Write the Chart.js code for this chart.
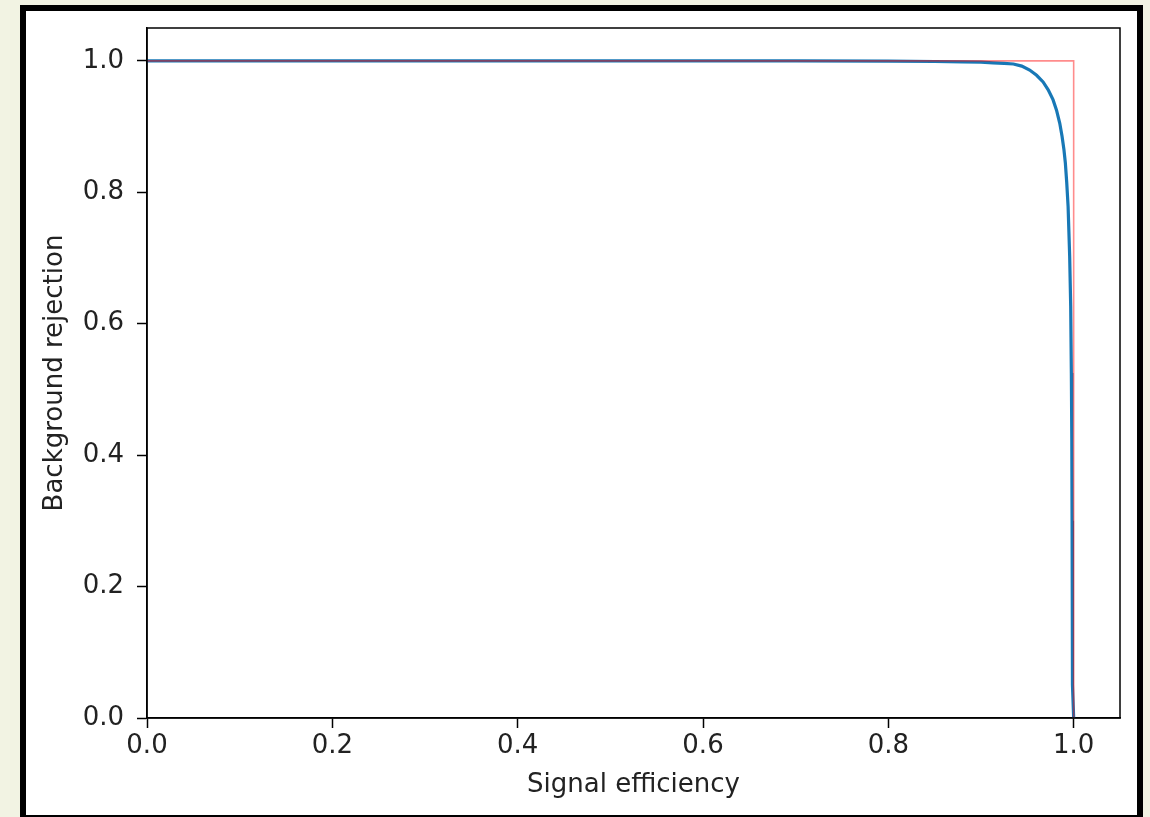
<!DOCTYPE html>
<html>
<head>
<meta charset="utf-8">
<script src="https://cdn.jsdelivr.net/npm/chart.js@4.4.1/dist/chart.umd.min.js"></script>
<style>
  html, body { margin: 0; padding: 0; width: 1150px; height: 817px; overflow: hidden; background: #f2f3e3; }
  #frame { position: absolute; left: 20px; top: 5px; width: 1111px; height: 804px; border: 6px solid #000; background: #fff; }
  #c { display: block; }
</style>
</head>
<body>
<div id="frame"><canvas id="c" width="1111" height="804"></canvas></div>
<script>
// ROC curve (signal efficiency vs background rejection)
const signalEff = [0, 0.1, 0.2, 0.3, 0.4, 0.5, 0.6, 0.7, 0.8, 0.85, 0.88, 0.9, 0.913, 0.925, 0.935, 0.944, 0.9525, 0.96, 0.967, 0.9725, 0.9777, 0.9815, 0.985, 0.9875, 0.9895, 0.991, 0.9925, 0.994, 0.9957, 0.9968, 0.9975, 0.998, 0.9983, 0.9986, 0.9988, 1.0];
const bkgRej    = [1.0, 1.0, 1.0, 1.0, 1.0, 1.0, 1.0, 1.0, 0.9995, 0.999, 0.9985, 0.998, 0.997, 0.9962, 0.9952, 0.992, 0.986, 0.978, 0.968, 0.956, 0.941, 0.925, 0.905, 0.885, 0.865, 0.845, 0.815, 0.778, 0.702, 0.626, 0.525, 0.423, 0.30, 0.15, 0.05, 0.0];
// ideal classifier reference
const idealX = [0, 1, 1];
const idealY = [1, 1, 0];
const xTicks = [0.0, 0.2, 0.4, 0.6, 0.8, 1.0];
const yTicks = [0.0, 0.2, 0.4, 0.6, 0.8, 1.0];

const FONT = { family: 'DejaVu Sans', size: 26 };
const TXT = '#222';

const framePlugin = {
  id: 'framebox',
  afterDatasetsDraw(chart) {
    const a = chart.chartArea, ctx = chart.ctx;
    ctx.save();
    ctx.strokeStyle = '#000';
    ctx.lineWidth = 1.5;
    ctx.strokeRect(a.left, a.top, a.right - a.left, a.bottom - a.top);
    ctx.restore();
  }
};

new Chart(document.getElementById('c'), {
  type: 'scatter',
  data: {
    datasets: [
      {
        data: idealX.map((x, i) => ({ x, y: idealY[i] })),
        showLine: true, borderColor: 'rgba(255,0,0,0.45)', borderWidth: 1.6,
        pointRadius: 0, tension: 0, fill: false
      },
      {
        data: signalEff.map((x, i) => ({ x, y: bkgRej[i] })),
        showLine: true, borderColor: '#1878b6', borderWidth: 3.2,
        pointRadius: 0, tension: 0, fill: false
      }
    ]
  },
  options: {
    responsive: false, animation: false,
    layout: { padding: { left: 0, top: 17, right: 17, bottom: 0 } },
    plugins: { legend: { display: false }, tooltip: { enabled: false } },
    scales: {
      x: {
        type: 'linear', min: 0, max: 1.05,
        afterBuildTicks(s) { s.ticks = xTicks.map(v => ({ value: v })); },
        afterFit(s) { s.height = 97; s.paddingLeft = 0; s.paddingRight = 0; },
        grid: { drawOnChartArea: false, drawTicks: true, tickLength: 10, tickColor: '#000', tickWidth: 1.5 },
        border: { display: true, color: '#000', width: 1.5 },
        ticks: { font: FONT, color: TXT, padding: 3, maxRotation: 0, callback: v => v.toFixed(1) },
        title: { display: true, text: 'Signal efficiency', font: FONT, color: TXT, padding: { top: 0, bottom: 14 } }
      },
      y: {
        type: 'linear', min: 0, max: 1.05,
        afterBuildTicks(s) { s.ticks = yTicks.map(v => ({ value: v })); },
        afterFit(s) { s.width = 121; s.paddingTop = 0; s.paddingBottom = 0; },
        grid: { drawOnChartArea: false, drawTicks: true, tickLength: 10, tickColor: '#000', tickWidth: 1.5 },
        border: { display: true, color: '#000', width: 1.5 },
        ticks: { font: FONT, color: TXT, padding: 13, callback: v => v.toFixed(1) },
        title: { display: true, text: 'Background rejection', font: FONT, color: TXT, padding: { top: 14, bottom: 0 } }
      }
    }
  },
  plugins: [framePlugin]
});
</script>
</body>
</html>
